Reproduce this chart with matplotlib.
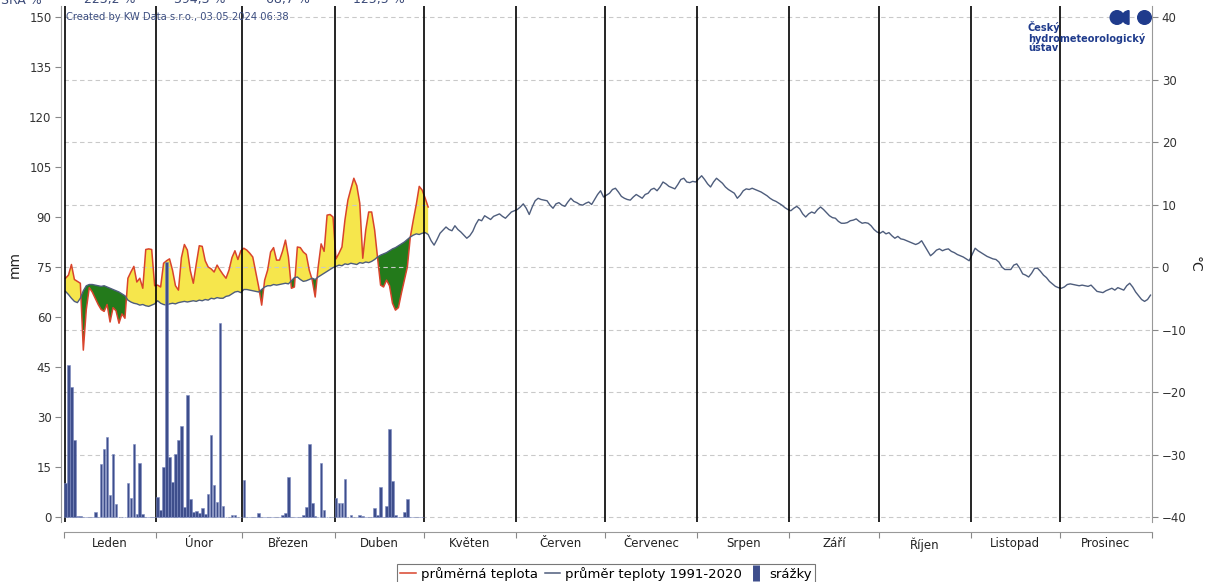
import matplotlib
matplotlib.use("Agg")
import matplotlib.pyplot as plt
import matplotlib.transforms as mtransforms
import numpy as np
from matplotlib.lines import Line2D
from matplotlib.patches import Circle, Wedge

# --- data -------------------------------------------------------------
months = ["Leden", "Únor", "Březen", "Duben", "Květen", "Červen",
          "Červenec", "Srpen", "Září", "Říjen", "Listopad", "Prosinec"]
month_days = [31, 29, 31, 30, 31, 30, 31, 31, 30, 31, 30, 31]

sra_label = "SRA %"
sra_values = ["223,2 %", "394,3 %", "68,7 %", "125,5 %"]

# průměr teploty 1991-2020 (°C), denní hodnoty
norm_jan = [-3.9, -4.4, -5.0, -5.5, -5.7, -5.0, -3.8, -3.0, -2.8, -2.8,
            -2.9, -3.0, -3.1, -3.0, -3.2, -3.4, -3.6, -3.8, -4.0, -4.3,
            -4.6, -5.3, -5.6, -5.8, -5.9, -6.1, -6.0, -6.2, -6.3, -6.1, -5.9]
norm_feb = [-5.4, -5.8, -6.0, -6.1, -5.9, -5.8, -5.9, -5.7, -5.6, -5.5,
            -5.6, -5.5, -5.4, -5.5, -5.3, -5.4, -5.2, -5.3, -5.0, -5.1,
            -4.9, -5.0, -5.0, -4.7, -4.6, -4.3, -4.0, -3.9, -4.1]
norm_mar = [-3.6, -3.6, -3.7, -3.8, -3.9, -4.0, -3.6, -3.2, -3.0, -3.0,
            -2.8, -2.9, -2.8, -2.7, -2.6, -2.7, -2.2, -1.7, -1.6, -2.0,
            -2.3, -2.2, -2.0, -1.8, -2.0, -1.6, -1.3, -1.0, -0.7, -0.4, -0.1]
norm_apr = [0.1, 0.3, 0.2, 0.5, 0.4, 0.6, 0.5, 0.4, 0.7, 0.6,
            0.8, 0.7, 0.9, 1.2, 1.6, 1.9, 2.1, 2.3, 2.6, 2.9,
            3.1, 3.4, 3.7, 4.0, 4.4, 4.8, 5.1, 5.3, 5.2, 5.4]
norm_may = [5.5, 5.2, 4.2, 3.5, 4.4, 5.4, 5.9, 6.4, 6.0, 5.8,
            6.6, 6.0, 5.6, 5.1, 4.6, 5.0, 5.7, 6.8, 7.6, 7.4,
            8.2, 7.9, 7.6, 8.1, 8.3, 8.5, 8.1, 7.8, 8.3, 8.8, 9.0]
norm_jun = [9.2, 9.6, 10.1, 9.4, 8.4, 9.6, 10.6, 11.0, 10.8, 10.7,
            10.6, 9.9, 9.4, 10.1, 10.3, 9.9, 9.7, 10.4, 11.0, 10.5,
            10.3, 10.0, 9.9, 10.2, 10.4, 10.0, 10.8, 11.6, 12.2, 11.2]
norm_jul = [11.5, 11.8, 12.4, 12.6, 12.0, 11.3, 11.0, 10.8, 10.7, 11.2,
            11.6, 11.3, 11.0, 11.6, 11.8, 12.4, 12.6, 12.2, 12.8, 13.6,
            13.3, 12.9, 12.7, 12.5, 13.2, 14.0, 14.2, 13.6, 13.5, 13.7, 13.6]
norm_aug = [14.1, 14.6, 14.0, 13.3, 12.8, 13.6, 14.2, 13.8, 13.4, 12.8,
            12.4, 12.1, 11.8, 11.0, 11.5, 12.2, 12.5, 12.4, 12.6, 12.4,
            12.2, 12.0, 11.7, 11.4, 11.0, 10.7, 10.5, 10.2, 9.9, 9.5, 9.2]
norm_sep = [9.0, 9.4, 9.7, 9.3, 8.5, 8.0, 8.5, 8.8, 8.6, 9.2,
            9.6, 9.2, 8.7, 8.2, 7.9, 7.8, 7.3, 7.0, 7.0, 7.1,
            7.4, 7.5, 7.7, 7.3, 7.0, 7.1, 7.0, 6.6, 6.0, 5.6]
norm_oct = [5.4, 5.7, 5.3, 5.5, 5.0, 4.6, 4.9, 4.5, 4.4, 4.2,
            4.0, 3.8, 3.6, 3.8, 4.2, 3.4, 2.6, 1.8, 2.2, 2.7,
            2.9, 2.6, 2.8, 2.9, 2.5, 2.3, 2.0, 1.8, 1.6, 1.3, 1.0]
norm_nov = [2.0, 3.0, 2.6, 2.3, 2.0, 1.7, 1.5, 1.3, 1.2, 0.8,
            0.0, -0.4, -0.4, -0.4, 0.3, 0.5, -0.2, -1.1, -1.3, -1.6,
            -1.0, -0.2, -0.2, -0.7, -1.3, -1.7, -2.3, -2.7, -3.1, -3.3]
norm_dec = [-3.4, -3.2, -2.8, -2.7, -2.8, -2.9, -3.0, -2.9, -3.0, -3.1,
            -2.9, -3.4, -3.9, -4.0, -4.1, -3.8, -3.6, -3.4, -3.7, -3.3,
            -3.5, -3.7, -3.0, -2.6, -3.2, -4.0, -4.6, -5.2, -5.5, -5.2, -4.5]

# průměrná teplota 2024 (°C)
act_jan = [-1.8, -1.3, 0.4, -2.0, -2.3, -2.6, -13.3, -6.8, -3.3, -4.0,
           -5.0, -6.0, -6.8, -7.1, -6.0, -8.8, -6.5, -7.0, -9.0, -7.5,
           -8.2, -1.8, -0.8, 0.1, -2.4, -1.8, -3.4, 2.8, 2.9, 2.8, -3.0]
act_feb = [-2.9, -3.2, 0.6, 1.0, 1.3, -0.5, -3.0, -3.7, 1.5, 3.6,
           2.7, -0.6, -2.6, 0.5, 3.4, 3.3, 1.0, 0.0, -0.3, -0.8,
           0.3, -0.5, -1.2, -1.8, -0.5, 1.5, 2.6, 1.2, 2.6]
act_mar = [3.0, 2.7, 2.2, 1.6, -0.8, -3.2, -6.1, -2.1, -0.5, 2.4,
           3.1, 1.1, 1.1, 2.5, 4.3, 1.6, -3.4, -3.2, 3.2, 3.1,
           2.4, 2.0, -0.5, -2.1, -4.8, 0.0, 3.7, 2.5, 8.3, 8.4, 8.0]
act_apr = [1.3, 2.2, 3.2, 7.5, 10.7, 12.5, 14.2, 13.0, 10.2, 1.4,
           5.9, 8.8, 8.8, 5.9, 1.4, -2.9, -3.2, -2.1, -3.0, -5.8,
           -6.9, -6.5, -4.2, -2.1, 0.0, 4.8, 7.5, 10.0, 12.9, 12.3]
act_may = [11.0, 9.6]

# srážky 2024 (mm)
prec_jan = [10.3, 45.6, 39.0, 23.0, 0.4, 0.4, 0, 0, 0, 0,
            1.5, 0, 16.0, 20.5, 24.0, 6.6, 19.0, 4.0, 0, 0,
            0, 10.3, 5.8, 22.0, 1.0, 16.3, 1.0, 0, 0, 0, 0]
prec_feb = [6.0, 2.2, 15.0, 76.6, 18.0, 10.6, 19.0, 23.0, 27.3, 3.0,
            36.6, 5.4, 1.5, 1.7, 1.2, 2.7, 0.8, 7.0, 24.6, 9.6,
            4.6, 58.3, 3.4, 0, 0, 0.5, 0.5, 0, 0]
prec_mar = [11.0, 0, 0, 0, 0, 1.3, 0, 0, 0, 0,
            0, 0, 0, 0.5, 1.3, 12.0, 0, 0, 0, 0,
            0.5, 3.0, 22.0, 4.1, 0.3, 0, 16.3, 2.0, 0, 0, 0]
prec_apr = [5.6, 4.3, 4.3, 11.4, 0, 0.5, 0, 0, 0.6, 0.3,
            0, 0, 0, 2.6, 0.5, 8.9, 0, 3.4, 26.3, 10.9,
            0.5, 0, 0, 1.6, 5.4, 0, 0, 0, 0, 0]

normal = np.array(norm_jan + norm_feb + norm_mar + norm_apr + norm_may + norm_jun
                  + norm_jul + norm_aug + norm_sep + norm_oct + norm_nov + norm_dec)
actual = np.array(act_jan + act_feb + act_mar + act_apr + act_may)
precip = np.array(prec_jan + prec_feb + prec_mar + prec_apr)

bounds = np.concatenate([[0], np.cumsum(month_days)])
mids = (bounds[:-1] + bounds[1:]) / 2
day_x = np.arange(len(normal)) + 0.5

# --- figure -----------------------------------------------------------
W, H = 1211, 582
fig = plt.figure(figsize=(W / 100, H / 100), dpi=100)
plt.rcParams['font.family'] = ['DejaVu Sans']

ax_t = fig.add_axes([64 / W, 1 - 522 / H, 1088 / W, 516 / H])
ax_p = ax_t.twinx()
ax_t.yaxis.tick_right()
ax_t.yaxis.set_label_position('right')
ax_p.yaxis.tick_left()
ax_p.yaxis.set_label_position('left')

# 0 mm at y=517 px, 150 mm at y=17 px
mm_lim = (-1.5, 153.3)
ax_p.set_ylim(*mm_lim)
ax_t.set_ylim((mm_lim[0] - 75) / 1.875, (mm_lim[1] - 75) / 1.875)
ax_t.set_xlim(0, bounds[-1])

n = len(actual)
xa = day_x[:n]
na = normal[:n]
ax_t.fill_between(xa, actual, na, where=actual >= na, interpolate=True,
                  color='#f6e64c', lw=0, zorder=1)
ax_t.fill_between(xa, actual, na, where=actual < na, interpolate=True,
                  color='#237a1b', lw=0, zorder=1)
ax_t.plot(xa, actual, color='#d9442c', lw=1.1, zorder=2)
ax_t.plot(day_x, normal, color='#4e5d7c', lw=1.0, zorder=2)

for b in bounds[1:-1]:
    ax_t.axvline(b, color='black', lw=1.2, zorder=3)
ax_t.axvline(0.3, color='black', lw=1.2, zorder=3)

ax_p.bar(day_x[:len(precip)], precip, width=0.88, color='#3e4e8c',
         edgecolor='#7d8bc0', linewidth=0.4, zorder=2)

# grid and ticks
ax_t.set_yticks(np.arange(-40, 41, 10))
ax_t.grid(axis='y', color='#c9c9c9', ls=(0, (4, 3)), lw=0.8, zorder=0)
ax_p.set_yticks(np.arange(0, 151, 15))
ax_t.tick_params(axis='y', right=True, left=False, labelright=True, labelleft=False,
                 length=4, color='#888888', labelsize=8.5, labelcolor='#333333', pad=3)
ax_p.tick_params(axis='y', length=4, color='#888888', labelsize=8.5,
                 labelcolor='#333333', pad=3)

ax_t.set_xticks(bounds)
ax_t.set_xticklabels([])
ax_t.set_xticks(mids, minor=True)
ax_t.set_xticklabels(months, minor=True)
ax_t.tick_params(axis='x', which='major', length=4, color='#888888')
ax_t.tick_params(axis='x', which='minor', length=0, pad=4, labelsize=8.5,
                 labelcolor='#222222')

for s in ['top', 'left']:
    ax_t.spines[s].set_visible(False)
ax_t.spines['right'].set_color('#999999')
ax_t.spines['bottom'].set_color('#999999')
ax_t.spines['bottom'].set_position(('outward', 7))
for s in ['top', 'right', 'bottom']:
    ax_p.spines[s].set_visible(False)
ax_p.spines['left'].set_color('#999999')
ax_p.spines['left'].set_position(('outward', 2))

ax_p.set_ylabel('mm', fontsize=10, color='#222222', labelpad=5)
ax_t.set_ylabel('°C', fontsize=10, color='#222222', rotation=-90, labelpad=11)

# overlay in pixel coordinates for texts and logo
ov = fig.add_axes([0, 0, 1, 1], zorder=10)
ov.set_xlim(0, W)
ov.set_ylim(H, 0)
ov.axis('off')

ov.text(21, 0, sra_label, ha='center', va='center', fontsize=9, color='#3b4a78')
head_tr = mtransforms.blended_transform_factory(ax_t.transData, ov.transData)
for m, v in zip(mids, sra_values):
    ov.text(m, 0, v, ha='center', va='center', fontsize=9, color='#3b4a78',
            transform=head_tr)

ov.text(66, 17, "Created by KW Data s.r.o., 03.05.2024 06:38", ha='left', va='center',
        fontsize=7.2, color='#3b4d80')

logo_c = '#1f3b8c'
ov.add_patch(Circle((1117, 17.5), 6.8, color=logo_c))
ov.add_patch(Wedge((1129, 17.5), 6.8, 90, 270, color=logo_c))
ov.add_patch(Circle((1144.5, 17.5), 6.8, color=logo_c))
ov.text(1028, 21, "Český\nhydrometeorologický\nústav", ha='left', va='top',
        fontsize=7, fontweight='bold', color=logo_c, linespacing=0.95)

handles = [Line2D([], [], color='#d9442c', lw=1.1),
           Line2D([], [], color='#4e5d7c', lw=1.1),
           Line2D([], [], color='#3e4e8c', marker='|', markersize=11,
                  markeredgewidth=5, ls='none')]
labels = ["průměrná teplota", "průměr teploty 1991-2020", "srážky"]
leg = fig.legend(handles, labels, loc='lower center', bbox_to_anchor=(606 / W, -0.004),
                 ncol=3, frameon=True, fancybox=False, edgecolor='#555555',
                 fontsize=9.5, handlelength=1.2, handletextpad=0.35,
                 columnspacing=0.5, borderpad=0.25, borderaxespad=0.0)
leg.get_frame().set_linewidth(0.8)

fig.savefig('out.png', dpi=100)
